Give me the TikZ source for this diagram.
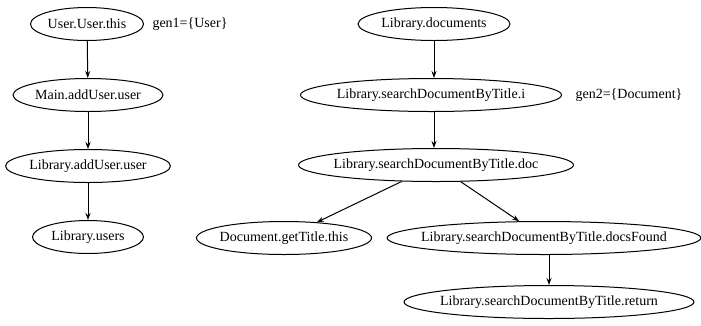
\documentclass[tikz,border=0pt]{standalone}
\usepackage{fontspec}
\setmainfont{Liberation Serif}
\usetikzlibrary{shapes.geometric,arrows.meta}

\tikzset{
  var/.style={ellipse,draw,line width=1pt,inner xsep=-12pt,inner ysep=0pt,
              minimum height=33pt,minimum width=#1,font=\fontsize{14}{16}\selectfont},
  var/.default=100pt,
  gen/.style={font=\fontsize{14}{16}\selectfont},
  flow/.style={line width=1pt,-{Stealth[length=7pt,width=5pt]}}
}

\begin{document}
\begin{tikzpicture}[x=1pt,y=-1pt]
\useasboundingbox (0,0) rectangle (701,325);
% left graph
\node[var=113pt] (uthis)    at (87,24)  {User.User.this};
\node[var=150pt] (mainuser) at (88,95)  {Main.addUser.user};
\node[var=165pt] (libuser)  at (88,166) {Library.addUser.user};
\node[var=111pt] (libusers) at (88,237) {Library.users};
\node[gen] (gen1)           at (190,24) {gen1=\{User\}};
% right graph
\node[var=152pt] (docs)      at (434,24)  {Library.documents};
\node[var=261pt] (searchi)   at (431,95)  {Library.searchDocumentByTitle.i};
\node[var=275pt] (searchdoc) at (436,165) {Library.searchDocumentByTitle.doc};
\node[var=175pt] (gettitle)  at (284,238) {Document.getTitle.this};
\node[var=312pt] (found)     at (544,238) {Library.searchDocumentByTitle.docsFound};
\node[var=290pt] (ret)       at (549,302) {Library.searchDocumentByTitle.return};
\node[gen] (gen2)            at (629,95)  {gen2=\{Document\}};

\draw[flow] (uthis) -- (mainuser);
\draw[flow] (mainuser) -- (libuser);
\draw[flow] (libuser) -- (libusers);
\draw[flow] (docs) -- (docs|-searchi.north);
\draw[flow] (searchi.south-|docs) -- (docs|-searchdoc.north);
\draw[flow] (searchdoc) -- (gettitle);
\draw[flow] (searchdoc) -- (found);
\draw[flow] (found.south-|ret) -- (ret);
\end{tikzpicture}
\end{document}
